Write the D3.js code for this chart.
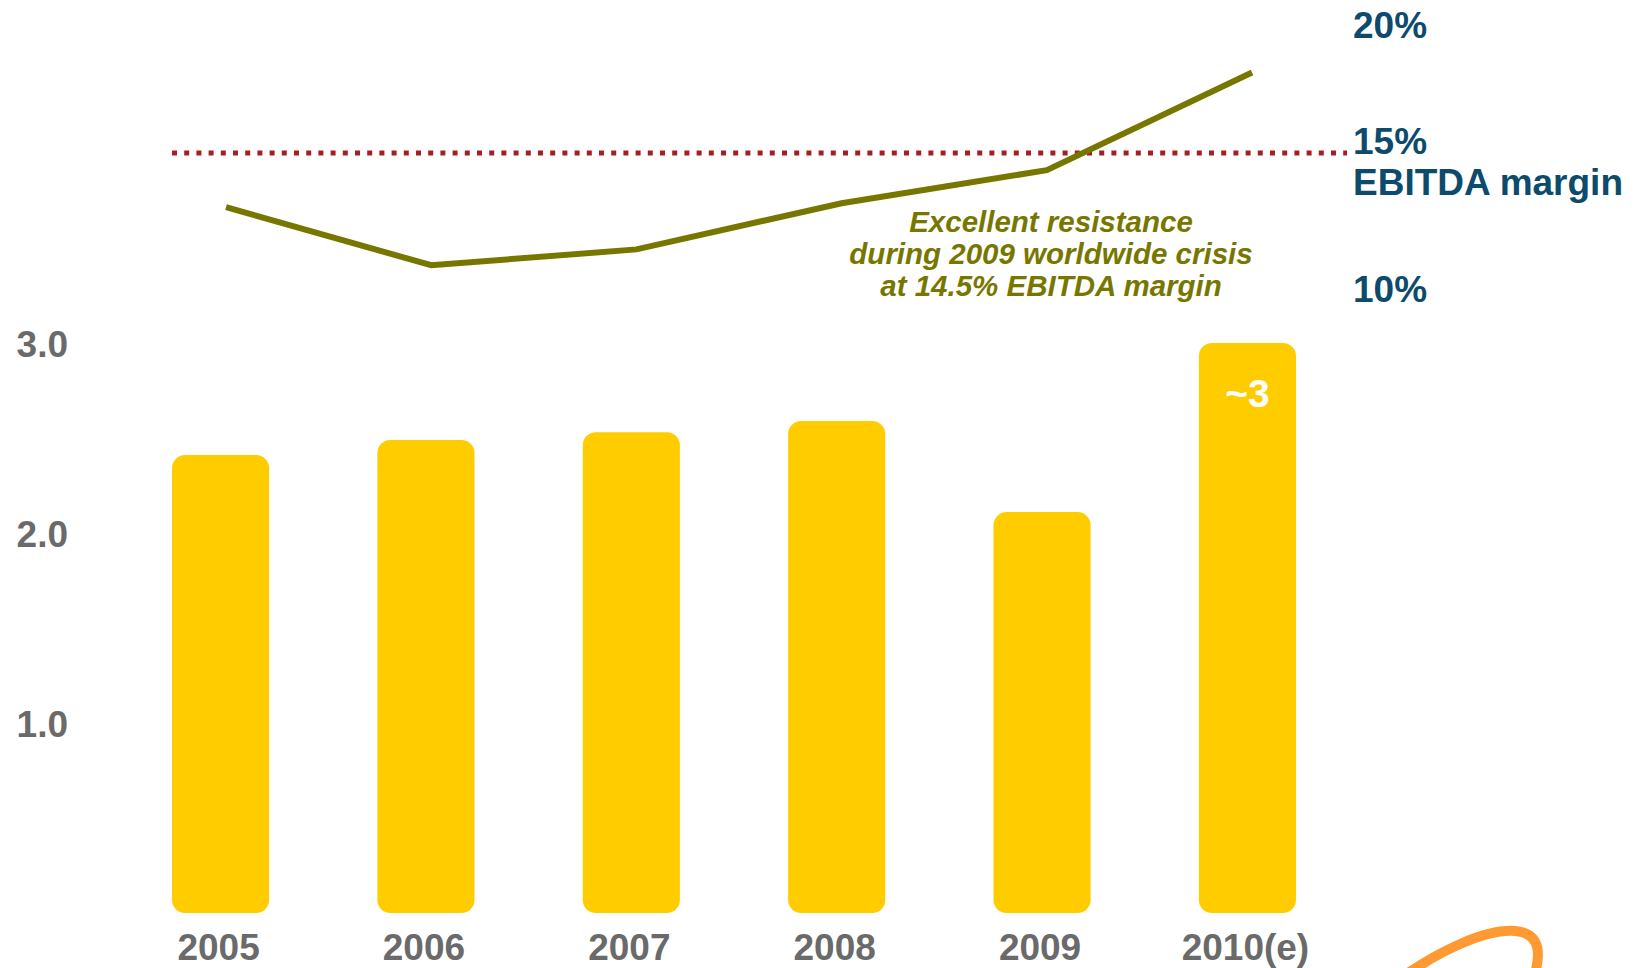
<!DOCTYPE html>
<html>
<head>
<meta charset="utf-8">
<script src="https://cdn.jsdelivr.net/npm/d3@7/dist/d3.min.js"></script>
<style>
  html, body { margin: 0; padding: 0; background: #ffffff; }
  svg { display: block; }
  text { font-family: "Liberation Sans", Arial, sans-serif; font-weight: bold; }
</style>
</head>
<body>
<svg id="chart" width="1637" height="968"></svg>
<script>
// Revenue (bars, left axis) and EBITDA margin (line, right axis) by year
const years = ["2005", "2006", "2007", "2008", "2009", "2010(e)"];
const revenue = [2.41, 2.49, 2.53, 2.59, 2.11, 3.0];
const ebitdaMargin = [13.1, 10.9, 11.5, 13.25, 14.5, 18.2];
const marginTarget = 15;
const leftTicks = [1, 2, 3];
const rightTicks = [10, 15, 20];
const barLabels = ["", "", "", "", "", "~3"];
const noteLines = ["Excellent resistance", "during 2009 worldwide crisis", "at 14.5% EBITDA margin"];

const svg = d3.select("#chart");

const x = d3.scaleBand().domain(years).range([172, 1296]).paddingInner(0.527).paddingOuter(0);
const y = d3.scaleLinear().domain([0, 3]).range([913, 343]);
const xLine = d3.scalePoint().domain(years).range([226, 1252]);
const yMargin = d3.scaleLinear().domain([10, 20]).range([289, 25]);

const grey = "#6a6a6a";
const teal = "#0c4b6b";
const olive = "#777700";

// Bars with rounded corners
svg.append("g").selectAll("rect")
  .data(years)
  .join("rect")
  .attr("x", d => x(d))
  .attr("y", (d, i) => y(revenue[i]))
  .attr("width", x.bandwidth())
  .attr("height", (d, i) => y(0) - y(revenue[i]))
  .attr("rx", 13).attr("ry", 13)
  .attr("fill", "#ffcc00");

// Value label inside the forecast bar
svg.append("g").selectAll("text")
  .data(years.map((d, i) => ({ d, i })).filter(o => barLabels[o.i]))
  .join("text")
  .attr("x", o => x(o.d) + x.bandwidth() / 2)
  .attr("y", o => y(revenue[o.i]) + 64)
  .attr("text-anchor", "middle")
  .attr("fill", "#ffffff")
  .attr("font-size", 39)
  .text(o => barLabels[o.i]);

// Left axis labels
svg.append("g").selectAll("text")
  .data(leftTicks)
  .join("text")
  .attr("x", 68)
  .attr("y", d => y(d) + 14)
  .attr("text-anchor", "end")
  .attr("fill", grey)
  .attr("font-size", 37)
  .text(d => d.toFixed(1));

// Category labels
svg.append("g").selectAll("text")
  .data(years)
  .join("text")
  .attr("x", d => x(d) + x.bandwidth() / 2 - 2)
  .attr("y", 960)
  .attr("text-anchor", "middle")
  .attr("fill", grey)
  .attr("font-size", 37)
  .text(d => d);

// Right axis labels
const rightX = 1353;
svg.append("g").selectAll("text")
  .data(rightTicks)
  .join("text")
  .attr("x", rightX)
  .attr("y", d => yMargin(d) + 13 + (d === marginTarget ? -16 : 0))
  .attr("fill", teal)
  .attr("font-size", 37)
  .text(d => d + "%");

svg.append("text")
  .attr("x", rightX)
  .attr("y", yMargin(marginTarget) + 38)
  .attr("fill", teal)
  .attr("font-size", 37)
  .text("EBITDA margin");

// 15% reference line
svg.append("line")
  .attr("x1", x(years[0]))
  .attr("x2", rightX - 6)
  .attr("y1", yMargin(marginTarget) - 4)
  .attr("y2", yMargin(marginTarget) - 4)
  .attr("stroke", "#a51e24")
  .attr("stroke-width", 5)
  .attr("stroke-dasharray", "5 7.2");

// EBITDA margin line
const line = d3.line()
  .x((d, i) => xLine(years[i]))
  .y(d => yMargin(d));

svg.append("path")
  .datum(ebitdaMargin)
  .attr("d", line)
  .attr("fill", "none")
  .attr("stroke", olive)
  .attr("stroke-width", 6)
  .attr("stroke-linejoin", "miter");

// Annotation
const note = svg.append("text")
  .attr("text-anchor", "middle")
  .attr("fill", "#777700")
  .attr("font-size", 29.5)
  .attr("font-style", "italic");
note.selectAll("tspan")
  .data(noteLines)
  .join("tspan")
  .attr("x", 1051)
  .attr("y", (d, i) => 232 + i * 32)
  .text(d => d);

// Orange brush swoosh in the corner
svg.append("path")
  .attr("d", "M1398,980 C1440,950 1486,929 1515,931 C1542,933 1541,956 1533,980")
  .attr("fill", "none")
  .attr("stroke", "#ff9a33")
  .attr("stroke-width", 10);
</script>
</body>
</html>
